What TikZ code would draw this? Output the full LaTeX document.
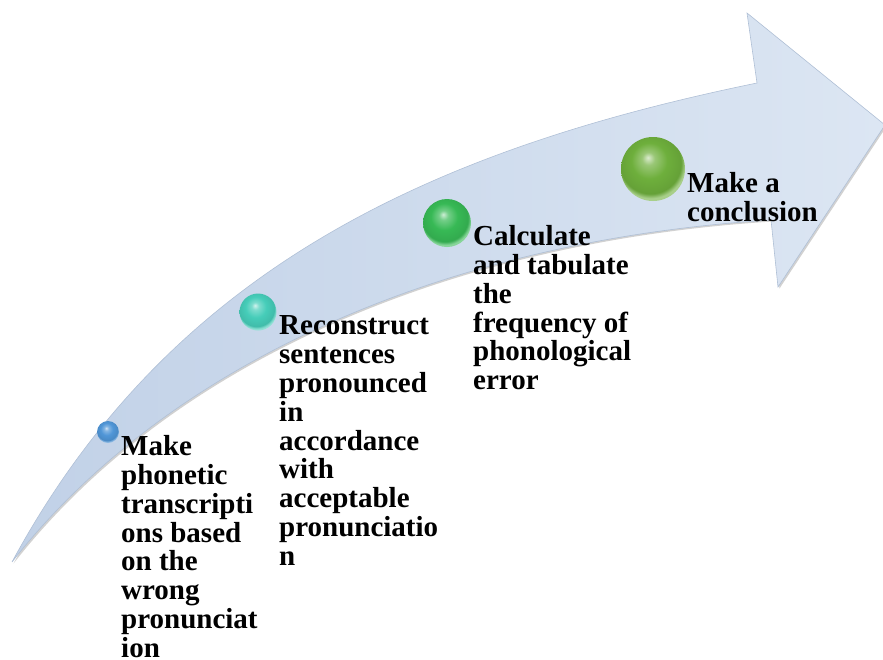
\documentclass[tikz,border=0pt]{standalone}
\usepackage{fontspec}
\setmainfont{Liberation Serif}
\usepackage{xcolor}
\usepackage{tikz}
\usetikzlibrary{calc}
\definecolor{arrowdark}{RGB}{193,209,231}
\definecolor{arrowlight}{RGB}{220,230,243}
\definecolor{arrowedge}{RGB}{176,192,214}
\definecolor{ballblue}{RGB}{80,150,215}
\definecolor{ballteal}{RGB}{70,205,185}
\definecolor{ballgreen}{RGB}{55,185,85}
\definecolor{ballolive}{RGB}{110,175,60}
\colorlet{glasscolor}{ballblue}
\pgfdeclareradialshading[glasscolor]{glassball}{\pgfpoint{-4bp}{9bp}}{%
color(0bp)=(glasscolor!25!white); color(5bp)=(glasscolor!70!white);
color(14bp)=(glasscolor); color(24bp)=(glasscolor!92!black);
color(27bp)=(glasscolor!60!white); color(50bp)=(glasscolor!60!white)}
\tikzset{stepball/.style={circle, inner sep=0pt, draw=none,
    /utils/exec={\colorlet{glasscolor}{#1}}, shading=glassball}}
\tikzstyle{steptext} = [anchor=north west, align=left, inner sep=0pt,
font=\bfseries\fontsize{29}{28.8}\selectfont]

\begin{document}
\begin{tikzpicture}[x=1pt, y=-1pt]
        \useasboundingbox (0,0) rectangle (883,659);
        \shadedraw[left color=arrowdark, right color=arrowlight, draw=arrowedge, line width=0.6pt,
            preaction={fill=black, opacity=0.18, transform canvas={shift={(1.5pt,-1.5pt)}}}]
            (12,562) .. controls (170,270) and (430,150) .. (757,83)
            -- (747,13) -- (885,125) -- (778,287) -- (771,220)
            .. controls (450,240) and (170,360) .. cycle;
        \node[stepball=ballblue, minimum size=22pt] (b1) at (108,432) {};
        \node[stepball=ballteal, minimum size=37pt] (b2) at (258,312) {};
        \node[stepball=ballgreen, minimum size=48pt] (b3) at (447,223) {};
        \node[stepball=ballolive, minimum size=64pt] (b4) at (653,169) {};
        \node[steptext] (t1) at (121,435.4) {Make\\phonetic\\transcripti\\ons based\\on the\\wrong\\pronunciat\\ion};
        \node[steptext] (t2) at (279,315.8) {Reconstruct\\sentences\\pronounced\\in\\accordance\\with\\acceptable\\pronunciatio\\n};
        \node[steptext] (t3) at (473,225.4) {Calculate\\and tabulate\\the\\frequency of\\phonological\\error};
        \node[steptext] (t4) at (687,172.4) {Make a\\conclusion};
    \end{tikzpicture}
\end{document}
